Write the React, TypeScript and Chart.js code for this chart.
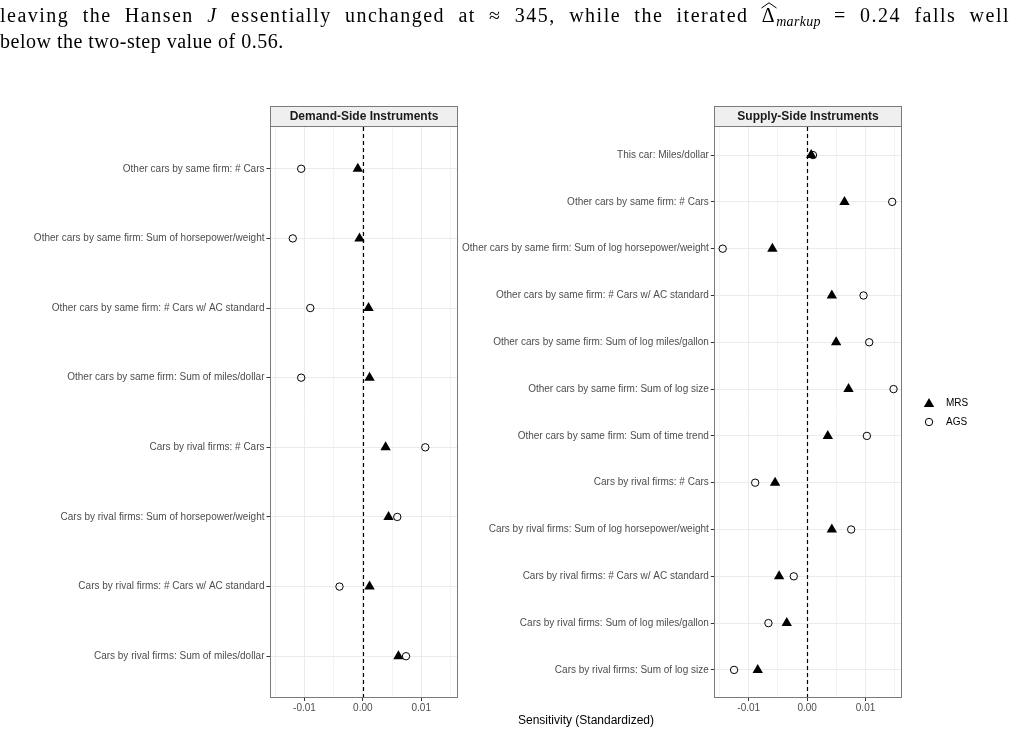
import React, { useEffect, useRef } from 'react';
import { Chart, registerables } from 'chart.js';

Chart.register(...registerables);

// ---- data ----
const demandLabels = [
  'Other cars by same firm: # Cars',
  'Other cars by same firm: Sum of horsepower/weight',
  'Other cars by same firm: # Cars w/ AC standard',
  'Other cars by same firm: Sum of miles/dollar',
  'Cars by rival firms: # Cars',
  'Cars by rival firms: Sum of horsepower/weight',
  'Cars by rival firms: # Cars w/ AC standard',
  'Cars by rival firms: Sum of miles/dollar',
];
const demandMRS = [-0.00086, -0.00057, 0.00098, 0.00115, 0.0039, 0.0044, 0.00115, 0.0061];
const demandAGS = [-0.01056, -0.012, -0.009, -0.01056, 0.0107, 0.0059, -0.004, 0.0074];

const supplyLabels = [
  'This car: Miles/dollar',
  'Other cars by same firm: # Cars',
  'Other cars by same firm: Sum of log horsepower/weight',
  'Other cars by same firm: # Cars w/ AC standard',
  'Other cars by same firm: Sum of log miles/gallon',
  'Other cars by same firm: Sum of log size',
  'Other cars by same firm: Sum of time trend',
  'Cars by rival firms: # Cars',
  'Cars by rival firms: Sum of log horsepower/weight',
  'Cars by rival firms: # Cars w/ AC standard',
  'Cars by rival firms: Sum of log miles/gallon',
  'Cars by rival firms: Sum of log size',
];
const supplyMRS = [0.0007, 0.0064, -0.00595, 0.00423, 0.00497, 0.00709, 0.00354, -0.00549, 0.00423, -0.0048, -0.00349, -0.00846];
const supplyAGS = [0.001, 0.01457, -0.01446, 0.00966, 0.01063, 0.0148, 0.01023, -0.0089, 0.00754, -0.00229, -0.00663, -0.01251];

const seriesNames = ['MRS', 'AGS'];
const panelTitles = ['Demand-Side Instruments', 'Supply-Side Instruments'];
const xTickValues = [-0.015, -0.01, -0.005, 0, 0.005, 0.01, 0.015];
const xTickLabels = ['', '-0.01', '', '0.00', '', '0.01', ''];
const xTitle = 'Sensitivity (Standardized)';
const xMin = -0.0159;
const xMax = 0.0163;

const SANS = '"Liberation Sans", Arial, sans-serif';
const TICK_COLOR = '#4D4D4D';
const GRID = '#EBEBEB';
const FRAME = '#7A7A7A';
const LABEL_SIZE = 10;

type PanelOpts = {
  labels: string[];
  mrs: number[];
  ags: number[];
  title: string;
  yWidth: number;
  rightPad: number;
  legend?: { x: number; y: number };
  axisTitle?: { x: number; y: number };
};

function drawTriangle(ctx: CanvasRenderingContext2D, x: number, y: number, r: number) {
  ctx.beginPath();
  for (let k = 0; k < 3; k++) {
    const a = (k * 2 * Math.PI) / 3;
    const px = x + Math.sin(a) * r;
    const py = y - Math.cos(a) * r;
    if (k === 0) ctx.moveTo(px, py);
    else ctx.lineTo(px, py);
  }
  ctx.closePath();
  ctx.fillStyle = '#000';
  ctx.fill();
}

function makeConfig(p: PanelOpts): any {
  const n = p.labels.length;
  const panelPlugin = {
    id: 'panelDecor',
    beforeDatasetsDraw(chart: any) {
      const { ctx, chartArea } = chart;
      const x0 = Math.round(chart.scales.x.getPixelForValue(0)) + 0.5;
      ctx.save();
      ctx.strokeStyle = '#000';
      ctx.lineWidth = 1.2;
      ctx.setLineDash([4, 3]);
      ctx.beginPath();
      ctx.moveTo(x0, chartArea.top);
      ctx.lineTo(x0, chartArea.bottom);
      ctx.stroke();
      ctx.restore();
    },
    afterDraw(chart: any) {
      const { ctx, chartArea } = chart;
      const l = Math.round(chartArea.left) + 0.5;
      const r = Math.round(chartArea.right) - 0.5;
      const t = Math.round(chartArea.top) - 0.5;
      const b = Math.round(chartArea.bottom) - 0.5;
      ctx.save();
      // panel frame
      ctx.strokeStyle = FRAME;
      ctx.lineWidth = 1;
      ctx.strokeRect(l, t, r - l, b - t);
      // facet strip
      const st = 106.5;
      ctx.fillStyle = '#EFEFEF';
      ctx.fillRect(l, st, r - l, t - st);
      ctx.strokeRect(l, st, r - l, t - st);
      ctx.fillStyle = '#1A1A1A';
      ctx.font = `bold 12px ${SANS}`;
      ctx.textAlign = 'center';
      ctx.textBaseline = 'middle';
      ctx.fillText(p.title, (l + r) / 2, (st + t) / 2 + 0.5);
      // legend
      if (p.legend) {
        const { x, y } = p.legend;
        drawTriangle(ctx, x, y + 1, 6);
        ctx.beginPath();
        ctx.arc(x, y + 19, 3.7, 0, Math.PI * 2);
        ctx.strokeStyle = '#000';
        ctx.lineWidth = 1;
        ctx.stroke();
        ctx.fillStyle = '#000';
        ctx.font = `${LABEL_SIZE}px ${SANS}`;
        ctx.textAlign = 'left';
        ctx.fillText(seriesNames[0], x + 17, y);
        ctx.fillText(seriesNames[1], x + 17, y + 19);
      }
      if (p.axisTitle) {
        ctx.fillStyle = '#000';
        ctx.font = `12px ${SANS}`;
        ctx.textAlign = 'center';
        ctx.textBaseline = 'middle';
        ctx.fillText(xTitle, p.axisTitle.x, p.axisTitle.y);
      }
      ctx.restore();
    },
  };

  const isMajor = (v: number) => xTickLabels[xTickValues.findIndex((t) => Math.abs(t - v) < 1e-9)] !== '';

  return {
    type: 'scatter',
    data: {
      datasets: [
        {
          label: seriesNames[0],
          data: p.mrs.map((v, i) => ({ x: v, y: i })),
          pointStyle: 'triangle',
          radius: 6,
          backgroundColor: '#000',
          borderColor: '#000',
          borderWidth: 0,
        },
        {
          label: seriesNames[1],
          data: p.ags.map((v, i) => ({ x: v, y: i })),
          pointStyle: 'circle',
          radius: 3.7,
          backgroundColor: 'rgba(0,0,0,0)',
          borderColor: '#000',
          borderWidth: 1,
        },
      ],
    },
    options: {
      responsive: false,
      animation: false,
      devicePixelRatio: 1,
      events: [],
      layout: { autoPadding: false, padding: { top: 127, right: p.rightPad, bottom: 0, left: 0 } },
      plugins: { legend: { display: false }, tooltip: { enabled: false } },
      scales: {
        x: {
          type: 'linear',
          position: 'bottom',
          min: xMin,
          max: xMax,
          afterBuildTicks: (s: any) => {
            s.ticks = xTickValues.map((v) => ({ value: v }));
          },
          afterFit: (s: any) => {
            s.height = 36;
            s.paddingLeft = 0;
            s.paddingRight = 0;
          },
          ticks: {
            autoSkip: false,
            maxRotation: 0,
            padding: 1,
            color: TICK_COLOR,
            font: { family: SANS, size: LABEL_SIZE },
            callback: (_v: any, i: number) => xTickLabels[i],
          },
          grid: {
            color: GRID,
            lineWidth: (c: any) => (c.tick && isMajor(c.tick.value) ? 1 : 0.6),
            tickColor: (c: any) => (c.tick && isMajor(c.tick.value) ? '#333333' : 'rgba(0,0,0,0)'),
            tickLength: 3,
            tickWidth: 1,
          },
          border: { display: false },
        },
        y: {
          type: 'linear',
          reverse: true,
          min: -0.6,
          max: n - 1 + 0.6,
          afterBuildTicks: (s: any) => {
            s.ticks = p.labels.map((_, i) => ({ value: i }));
          },
          afterFit: (s: any) => {
            s.width = p.yWidth;
            s.paddingTop = 0;
            s.paddingBottom = 0;
          },
          ticks: {
            autoSkip: false,
            padding: 2,
            color: TICK_COLOR,
            font: { family: SANS, size: LABEL_SIZE },
            callback: (_v: any, i: number) => p.labels[i],
          },
          grid: {
            color: GRID,
            lineWidth: 1,
            tickColor: '#333333',
            tickLength: 3.5,
            tickWidth: 1,
          },
          border: { display: false },
        },
      },
    },
    plugins: [panelPlugin],
  };
}

function Panel(props: { opts: PanelOpts; left: number; width: number }) {
  const ref = useRef<HTMLCanvasElement | null>(null);
  useEffect(() => {
    if (!ref.current) return;
    const chart = new Chart(ref.current, makeConfig(props.opts));
    return () => chart.destroy();
  }, []);
  return (
    <canvas
      ref={ref}
      width={props.width}
      height={734}
      style={{ position: 'absolute', left: props.left, top: 0, width: props.width, height: 734 }}
    />
  );
}

export default function App() {
  useEffect(() => {
    document.body.style.margin = '0';
  }, []);

  const textStyle: React.CSSProperties = {
    position: 'absolute',
    left: 0,
    width: 1010,
    fontFamily: '"Liberation Serif", "Times New Roman", serif',
    fontSize: 20,
    lineHeight: '26px',
    letterSpacing: '0.5px',
    color: '#000',
    zIndex: 2,
  };

  return (
    <div style={{ position: 'relative', width: 1010, height: 734, overflow: 'hidden', background: '#fff' }}>
      <Panel
        left={0}
        width={462}
        opts={{
          labels: demandLabels,
          mrs: demandMRS,
          ags: demandAGS,
          title: panelTitles[0],
          yWidth: 270,
          rightPad: 4,
        }}
      />
      <Panel
        left={462}
        width={548}
        opts={{
          labels: supplyLabels,
          mrs: supplyMRS,
          ags: supplyAGS,
          title: panelTitles[1],
          yWidth: 252.3,
          rightPad: 107.7,
          legend: { x: 929 - 462, y: 403 },
          axisTitle: { x: 586 - 462, y: 721 },
        }}
      />
      <div style={{ ...textStyle, top: 2, letterSpacing: '1.5px', textAlign: 'justify', textAlignLast: 'justify' }}>
        leaving the Hansen <i>J</i> essentially unchanged at ≈ 345, while the iterated{' '}
        <span style={{ position: 'relative', display: 'inline-block' }}>
          <svg
            width="16"
            height="7"
            style={{ position: 'absolute', left: -1, top: 0 }}
          >
            <polyline points="0.5,6 8,0.8 15.5,6" fill="none" stroke="#000" strokeWidth="1" />
          </svg>
          Δ
        </span>
        <span style={{ fontStyle: 'italic', fontSize: 14, position: 'relative', top: 4, letterSpacing: '0.3px' }}>markup</span>{' '}
        = 0.24 falls well
      </div>
      <div style={{ ...textStyle, top: 28, textAlign: 'left' }}>below the two-step value of 0.56.</div>
    </div>
  );
}
